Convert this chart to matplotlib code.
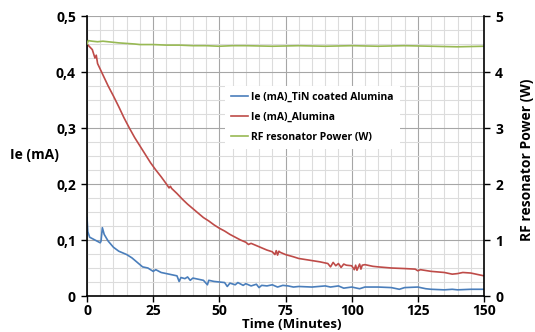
import matplotlib
matplotlib.use("Agg")
import matplotlib.pyplot as plt
from matplotlib.ticker import MultipleLocator

# ---------------- data ----------------
blue_t = [0, 0.3, 1, 3, 5, 5.3, 5.8, 6.5, 8, 10, 12, 15, 17, 19, 21, 23, 25, 26, 28, 30,
          32, 34, 34.8, 35.5, 37, 38, 39, 40, 42, 44, 45.5, 46, 48, 50, 52, 53, 54, 56, 57,
          59, 60, 62, 64, 65, 66, 68, 70, 72, 74, 76, 78, 80, 85, 90, 92, 95, 97, 100, 103,
          105, 110, 115, 118, 120, 125, 128, 130, 135, 138, 140, 145, 150]
blue_v = [0.140, 0.115, 0.105, 0.100, 0.095, 0.098, 0.122, 0.110, 0.098, 0.087, 0.080, 0.074,
          0.068, 0.060, 0.052, 0.050, 0.044, 0.047, 0.042, 0.040, 0.038, 0.036, 0.026, 0.033,
          0.031, 0.034, 0.028, 0.032, 0.030, 0.028, 0.020, 0.028, 0.026, 0.025, 0.024, 0.017,
          0.023, 0.020, 0.024, 0.019, 0.022, 0.018, 0.021, 0.015, 0.019, 0.018, 0.020, 0.016,
          0.019, 0.018, 0.016, 0.017, 0.016, 0.018, 0.016, 0.018, 0.014, 0.016, 0.013, 0.016,
          0.016, 0.015, 0.012, 0.015, 0.016, 0.013, 0.012, 0.011, 0.012, 0.011, 0.012, 0.012]

red_t = [0, 1, 2, 3, 3.5, 4, 6, 8, 10, 12, 14, 16, 18, 20, 22, 24, 26, 28, 30, 31, 31.5, 32,
         34, 36, 38, 40, 42, 44, 46, 48, 50, 52, 54, 56, 58, 60, 61, 62, 64, 66, 68, 70, 71,
         71.5, 72, 72.5, 73, 75, 78, 80, 84, 88, 91, 92, 93, 94, 95, 96, 97, 98, 100, 101,
         101.5, 102, 103, 103.5, 104, 105, 108, 110, 115, 120, 124, 125, 126, 130, 135, 138,
         140, 142, 145, 148, 150]
red_v = [0.450, 0.445, 0.440, 0.425, 0.430, 0.415, 0.395, 0.375, 0.357, 0.338, 0.318, 0.300,
         0.283, 0.268, 0.253, 0.238, 0.225, 0.213, 0.200, 0.193, 0.196, 0.192, 0.183, 0.173,
         0.164, 0.156, 0.148, 0.140, 0.134, 0.127, 0.121, 0.116, 0.110, 0.105, 0.100, 0.096,
         0.092, 0.094, 0.090, 0.086, 0.082, 0.079, 0.074, 0.081, 0.073, 0.080, 0.078, 0.074,
         0.070, 0.067, 0.064, 0.061, 0.058, 0.052, 0.060, 0.054, 0.058, 0.051, 0.057, 0.055,
         0.054, 0.047, 0.055, 0.046, 0.057, 0.048, 0.055, 0.056, 0.053, 0.052, 0.050, 0.049,
         0.048, 0.045, 0.047, 0.044, 0.042, 0.039, 0.040, 0.042, 0.041, 0.038, 0.036]

green_t = [0, 0.5, 2, 4, 6, 8, 10, 12, 15, 18, 20, 22, 25, 30, 35, 40, 45, 50, 55, 60, 70,
           80, 90, 100, 110, 120, 130, 140, 150]
green_v = [4.50, 4.56, 4.55, 4.54, 4.55, 4.54, 4.53, 4.52, 4.51, 4.50, 4.49, 4.49, 4.49, 4.48,
           4.48, 4.47, 4.47, 4.46, 4.47, 4.47, 4.46, 4.47, 4.46, 4.47, 4.46, 4.47, 4.46, 4.45,
           4.46]

labels = ["Ie (mA)_TiN coated Alumina", "Ie (mA)_Alumina", "RF resonator Power (W)"]
x_ticks = [0, 25, 50, 75, 100, 125, 150]
y_ticks = [0, 0.1, 0.2, 0.3, 0.4, 0.5]
y_ticklabels = ["0", "0,1", "0,2", "0,3", "0,4", "0,5"]
y2_ticks = [0, 1, 2, 3, 4, 5]

# ---------------- plot ----------------
plt.rcParams['font.family'] = ['Open Sans', 'DejaVu Sans']
plt.rcParams['font.weight'] = 'bold'

fig = plt.figure(figsize=(5.35, 3.32), dpi=100)
ax = fig.add_axes([87/535, 1-296/332, (484-87)/535, (296-16)/332])
ax2 = ax.twinx()

c_blue, c_red, c_green = "#4a7ebb", "#be4b48", "#98b954"
l1, = ax.plot(blue_t, blue_v, color=c_blue, lw=1.2)
l2, = ax.plot(red_t, red_v, color=c_red, lw=1.2)
l3, = ax2.plot(green_t, green_v, color=c_green, lw=1.2)

ax.set_xlim(0, 150)
ax.set_ylim(0, 0.5)
ax2.set_ylim(0, 5)

ax.set_xticks(x_ticks)
ax.xaxis.set_minor_locator(MultipleLocator(5))
ax.set_yticks(y_ticks)
ax.set_yticklabels(y_ticklabels)
ax.yaxis.set_minor_locator(MultipleLocator(0.025))
ax2.set_yticks(y2_ticks)

ax.grid(which='major', color='#a6a6a6', lw=0.8)
ax.grid(which='minor', color='#dcdcdc', lw=0.8)
ax.set_axisbelow(True)

for a in (ax, ax2):
    a.spines['top'].set_visible(False)
ax.spines['right'].set_visible(False)
ax2.spines['left'].set_visible(False)
ax2.spines['bottom'].set_visible(False)
for s in ['left', 'bottom']:
    ax.spines[s].set_linewidth(1.2)
ax2.spines['right'].set_linewidth(1.2)

ax.tick_params(which='minor', length=0)
ax.tick_params(axis='y', which='major', length=4, width=1, labelsize=10, pad=4)
ax.tick_params(axis='x', which='major', length=4, width=1, labelsize=10, pad=2)
ax2.tick_params(which='major', length=4, width=1, labelsize=10, pad=4)
for lab in ax.get_xticklabels() + ax.get_yticklabels() + ax2.get_yticklabels():
    lab.set_fontweight('bold')

leg = ax.legend([l1, l2, l3], labels, loc='upper left', bbox_to_anchor=(0.335, 0.77),
                prop={'size': 7.5, 'weight': 'bold'}, frameon=True, fancybox=False,
                edgecolor='none', facecolor='white', framealpha=1.0, handlelength=1.6,
                handletextpad=0.3, labelspacing=0.85, borderpad=0.6)
leg.set_zorder(10)

fig.text(10/535, 1-155/332, "Ie (mA)", fontsize=10, fontweight='bold', va='center', ha='left')
fig.text(292/535, 1-331/332, "Time (Minutes)", fontsize=9.5, fontweight='bold', va='bottom', ha='center')
fig.text(527/535, 1-160/332, "RF resonator Power (W)", fontsize=10, fontweight='bold',
         va='center', ha='center', rotation=90)

fig.savefig("out.png", dpi=100)
